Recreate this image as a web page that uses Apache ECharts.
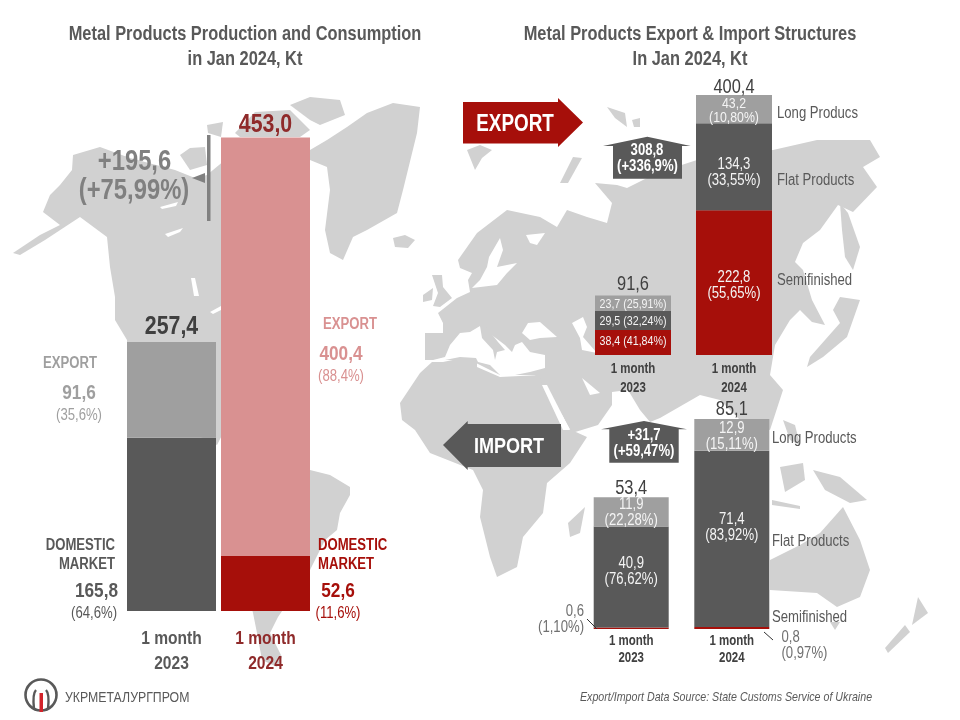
<!DOCTYPE html>
<html><head><meta charset="utf-8">
<style>html,body{margin:0;padding:0;background:#fff}#c{width:960px;height:720px}</style>
<script src="https://cdn.jsdelivr.net/npm/echarts@6/dist/echarts.min.js"></script>
</head><body><div id="c"></div>
<script>
// ---- data ----
const periods = ['1 month\n2023', '1 month\n2024'];
const totalProduction = [257.4, 453.0];
const domesticMarket = [165.8, 52.6];
const exportVolume = [91.6, 400.4];
const exportTotals = [91.6, 400.4];
const exportSemi = [38.4, 222.8];
const exportSemiPct = ['41,84%', '55,65%'];
const exportFlat = [29.5, 134.3];
const exportFlatPct = ['32,24%', '33,55%'];
const exportLong = [23.7, 43.2];
const exportLongPct = ['25,91%', '10,80%'];
const importTotals = [53.4, 85.1];
const importSemi = [0.6, 0.8];
const importFlat = [40.9, 71.4];
const importFlatPct = ['76,62%', '83,92%'];
const importLong = [11.9, 12.9];
const importLongPct = ['22,28%', '15,11%'];

// ---- decorative world-map backdrop (page pixels) ----
const landShapes = [
 [[13,253],[40,235],[60,225],[43,212],[50,195],[60,185],[72,170],[73,155],[100,147],[130,158],[175,170],[195,178],[207,175],[225,160],[235,300],[240,400],[217,445],[127,400],[127,340],[115,320],[115,297],[110,267],[107,237],[80,217],[45,240],[20,255]],
 [[180,155],[190,148],[205,147],[207,165],[190,170]],
 [[207,125],[223,122],[221,137],[208,133]],
 [[235,133],[255,112],[290,110],[310,130],[300,137],[240,137]],
 [[290,105],[310,97],[340,100],[345,115],[320,125],[310,120]],
 [[310,150],[327,140],[347,127],[367,113],[393,103],[420,107],[417,133],[403,190],[397,213],[367,230],[353,237],[343,260],[330,253],[325,230],[330,190],[327,167],[310,160]],
 [[393,238],[405,235],[415,240],[408,248],[395,247]],
 [[250,470],[310,470],[330,475],[350,487],[350,495],[340,513],[337,530],[325,540],[310,570],[278,617],[270,633],[282,657],[277,667],[262,660],[257,633],[253,613],[240,560],[225,500]],
 [[425,333],[443,333],[443,323],[438,313],[457,298],[470,292],[468,280],[472,273],[460,268],[458,260],[477,233],[507,210],[540,217],[557,227],[567,210],[587,217],[607,223],[612,203],[595,183],[617,185],[627,188],[657,173],[697,160],[773,150],[817,140],[870,140],[880,157],[863,167],[877,187],[853,212],[838,205],[820,230],[803,243],[795,262],[803,270],[812,300],[825,325],[812,322],[800,310],[790,320],[775,345],[770,375],[783,390],[770,430],[740,420],[720,400],[700,395],[660,418],[650,422],[640,410],[628,390],[612,392],[612,405],[598,425],[572,433],[562,415],[543,388],[535,375],[500,375],[470,360],[425,360]],
 [[432,275],[442,275],[443,287],[452,298],[440,307],[433,306],[438,293]],
 [[423,295],[433,288],[432,300],[423,302]],
 [[467,150],[480,145],[492,150],[482,158],[475,170]],
 [[607,107],[625,113],[627,127],[615,118]],
 [[632,120],[640,118],[640,127],[634,127]],
 [[560,183],[573,157],[582,158],[568,183]],
 [[840,203],[848,213],[860,247],[853,270],[845,257],[842,230]],
 [[860,300],[847,337],[823,357],[807,367],[810,357],[840,323],[833,310],[840,297]],
 [[432,362],[443,362],[477,355],[477,367],[500,377],[540,375],[543,387],[567,428],[587,437],[570,463],[547,483],[543,513],[523,537],[517,567],[497,577],[490,557],[480,517],[483,490],[473,470],[430,453],[415,430],[402,420],[400,403],[420,373]],
 [[585,507],[580,533],[570,537],[568,523]],
 [[770,560],[800,545],[820,533],[843,507],[860,540],[870,570],[860,597],[837,607],[817,593],[770,590]],
 [[830,622],[840,622],[835,630]],
 [[918,597],[928,613],[912,625]],
 [[905,625],[910,632],[888,653],[885,648]],
 [[813,470],[840,477],[867,500],[850,503],[825,490]],
 [[780,467],[803,463],[805,480],[785,492]],
 [[783,420],[795,425],[800,445],[790,440]],
 [[772,500],[800,506],[800,509],[772,505]]
];
const seaShapes = [
 [[500,238],[489,257],[487,267],[480,280],[472,288],[497,285],[507,273],[517,263],[497,267],[503,250]],
 [[433,360],[445,357],[450,345],[460,333],[470,332],[480,326],[505,345],[512,352],[515,345],[522,342],[530,352],[545,355],[545,368],[530,372],[515,375],[500,375],[490,365],[478,362],[476,358],[460,357],[445,360]],
 [[522,333],[528,323],[540,322],[557,337],[540,338],[530,340]],
 [[572,323],[583,317],[587,327],[583,337],[597,353],[582,350],[580,338]],
 [[582,378],[600,393],[590,395]],
 [[542,385],[547,385],[570,430],[563,430]],
 [[526,235],[545,233],[537,245],[530,243]],
 [[165,234],[183,228],[180,232],[168,237]],
 [[160,207],[178,202],[176,206],[162,209]],
 [[191,278],[195,278],[199,296],[194,296]],
 [[210,312],[221,306],[221,310],[213,314]]
];
const italyShape = [[480,326],[483,323],[498,342],[505,350],[497,352],[495,360],[493,350],[482,338]];

// ---- colours ----
const GREY='#595959', MID='#9F9F9F', RED='#A60F0A', PINK='#D99191', LAND='#D1D1D1', WINE='#8F2A2A', INK='#404040', SOFT='#F4F4F4';
const FONT='"Liberation Sans",Arial,sans-serif', SQUEEZE=0.82, TEXT_NUDGE=1.3;
const fmt = v => v.toFixed(1).replace('.', ',');

function catAxis(i){ return {gridIndex:i,type:'category',data:periods,axisLine:{show:false},axisTick:{show:false},axisLabel:{show:false}}; }
function valAxis(i,max){ return {gridIndex:i,type:'value',min:0,max,show:false,splitLine:{show:false}}; }

function seg(name,i,values,colors){
  return {type:'bar',name,stack:'s'+i,xAxisIndex:i,yAxisIndex:i,barWidth:i===0?89:(i===1?76:75),silent:true,
    data:values.map((v,k)=>({value:v,itemStyle:{color:colors[k]}}))};
}
// text anchored to the chart's own scales: each item sits at (category k, value y)
function labels(name,i,items){
  return {type:'custom',name,xAxisIndex:i,yAxisIndex:i,z:6,silent:true,
    data:items.map(t=>[t.k,t.y]),encode:{x:0,y:1},
    renderItem:(params,api)=>{
      const t=items[params.dataIndex], p=api.coord([api.value(0),api.value(1)]);
      return {type:'text',x:p[0]+(t.dx||0),y:p[1]+(t.dy||0)+TEXT_NUDGE,scaleX:SQUEEZE,silent:true,
        style:{text:t.text,fontFamily:FONT,fontSize:t.size,fontWeight:t.weight||'normal',fill:t.color,
          align:'center',verticalAlign:'middle',lineHeight:t.lh||undefined}};
    }};
}
function segLabels(stackRows){
  const out=[], base=[0,0];
  stackRows.forEach(r=>{
    r.values.forEach((v,k)=>{
      if(r.text) out.push({k,y:base[k]+v/2,text:r.text(k),size:r.size[k],lh:r.lh[k],color:r.color||SOFT,dy:r.dy[k]});
      base[k]+=v;
    });
  });
  return out;
}
const two=(vals,pcts)=>k=>fmt(vals[k])+'\n('+pcts[k]+')';
const rowOrTwo=(vals,pcts)=>k=>k===0?fmt(vals[k])+' ('+pcts[k]+')':fmt(vals[k])+'\n('+pcts[k]+')';
const periodLabels=(size,color,dy1,lh)=>periods.map((p,k)=>({k,y:0,text:p,size,weight:'bold',color:color[k],dy:dy1,lh}));
const totalLabels=(vals,size,weight,color,dys)=>vals.map((v,k)=>({k,y:v,text:fmt(v),size,weight,color:color[k],dy:dys[k]}));

const series=[
  seg('Domestic market',0,domesticMarket,[GREY,RED]),
  seg('Export',0,exportVolume,[MID,PINK]),
  labels('Totals',0,totalLabels(totalProduction,26,'bold',[INK,WINE],[-16.7,-13.7])),
  labels('Periods',0,periodLabels(19,[GREY,WINE],38.5,25)),
  seg('Semifinished',1,exportSemi,[RED,RED]),
  seg('Flat Products',1,exportFlat,[GREY,GREY]),
  seg('Long Products',1,exportLong,[MID,MID]),
  labels('Export shares',1,segLabels([
    {values:exportSemi,text:rowOrTwo(exportSemi,exportSemiPct),size:[13,16],lh:[16,16],dy:[-2,2]},
    {values:exportFlat,text:rowOrTwo(exportFlat,exportFlatPct),size:[13,16],lh:[16,16],dy:[0,5]},
    {values:exportLong,text:rowOrTwo(exportLong,exportLongPct),size:[13,15],lh:[16,14],dy:[0,0]}
  ])),
  labels('Export totals',1,totalLabels(exportTotals,20,'normal',[INK,INK],[-12,-9.3])),
  labels('Export periods',1,periodLabels(14,[INK,INK],22,19)),
  seg('Semifinished',2,importSemi,[RED,RED]),
  seg('Flat Products',2,importFlat,[GREY,GREY]),
  seg('Long Products',2,importLong,[MID,MID]),
  labels('Import shares',2,segLabels([
    {values:importSemi},
    {values:importFlat,text:two(importFlat,importFlatPct),size:[16,16],lh:[16,16],dy:[-7,-13]},
    {values:importLong,text:two(importLong,importLongPct),size:[16,16],lh:[16,16],dy:[-1,0]}
  ])),
  labels('Import totals',2,totalLabels(importTotals,20,'normal',[INK,INK],[-10.3,-11])),
  labels('Import periods',2,periodLabels(14,[INK,INK],19.5,17))
];

// ---- graphics ----
const g=[];
const poly=(pts,fill,z)=>g.push({type:'polygon',silent:true,z,shape:{points:pts},style:{fill}});
landShapes.forEach(s=>poly(s,LAND,-3));
seaShapes.forEach(s=>poly(s,'#ffffff',-2));
poly(italyShape,LAND,-1);

function txt(text,x,y,size,color,weight,align,extra){
  g.push({type:'text',silent:true,z:20,x,y:y+TEXT_NUDGE,scaleX:SQUEEZE,style:Object.assign({text,fontFamily:FONT,fontSize:size,fontWeight:weight||'normal',
    fill:color,align:align||'center',verticalAlign:'middle'},extra||{})});
}
txt('Metal Products Production and Consumption',245,33,20,GREY,'bold');
txt('in Jan 2024, Kt',245,58,20,GREY,'bold');
txt('Metal Products Export & Import Structures',690,33,20,GREY,'bold');
txt('In Jan 2024, Kt',690,58,20,GREY,'bold');
g.push({type:'rect',silent:true,z:6,shape:{x:207,y:135,width:3.5,height:86},style:{fill:'#808080'}});
poly([[192,178],[205,173],[205,183]],'#808080',6);
txt('+'+fmt(totalProduction[1]-totalProduction[0]),134.5,161,29,'#808080','bold');
txt('(+75,99%)',134,190,29,'#808080','bold');
txt('EXPORT',70,362,16,MID,'bold');
txt(fmt(exportVolume[0]),79,392,21,MID,'bold');
txt('(35,6%)',79,414,16,MID);
txt('DOMESTIC',115,544,16,GREY,'bold','right');
txt('MARKET',115,563,16,GREY,'bold','right');
txt(fmt(domesticMarket[0]),118,590,21,GREY,'bold','right');
txt('(64,6%)',117,612,16,GREY,'normal','right');
txt('EXPORT',350,323,16,PINK,'bold');
txt(fmt(exportVolume[1]),341,353,21,PINK,'bold');
txt('(88,4%)',341,375,16,PINK);
txt('DOMESTIC',318,544,16,RED,'bold','left');
txt('MARKET',318,563,16,RED,'bold','left');
txt(fmt(domesticMarket[1]),338,590,21,RED,'bold');
txt('(11,6%)',338,612,16,RED);
poly([[463,102],[558,102],[558,98],[583,122.5],[558,147],[558,143.5],[463,143.5]],RED,6);
txt('EXPORT',515,123,23,'#ffffff','bold');
poly([[561,424],[467.7,424],[467.7,421],[443,445],[467.7,470],[467.7,467],[561,467]],GREY,6);
txt('IMPORT',509,446,22,'#ffffff','bold');
poly([[613,178.7],[613,146],[603,146],[647.3,136.7],[690.7,146],[682,146],[682,178.7]],GREY,6);
txt('308,8',647,149,16,'#ffffff','bold');
txt('(+336,9%)',647.5,165,16,'#ffffff','bold');
poly([[609.3,462.7],[609.3,429.3],[601,429.3],[644,421],[687,429.3],[678.7,429.3],[678.7,462.7]],GREY,6);
txt('+31,7',644,434,16,'#ffffff','bold');
txt('(+59,47%)',644,450,16,'#ffffff','bold');
txt('Long Producs',777,112,16,GREY,'normal','left');
txt('Flat Products',777,179,16,GREY,'normal','left');
txt('Semifinished',777,279,16,GREY,'normal','left');
txt('Long Products',772,437,16,GREY,'normal','left');
txt('Flat Products',772,540,16,GREY,'normal','left');
txt('Semifinished',772,616,16,GREY,'normal','left');
txt(fmt(importSemi[0]),584,610,16,'#707070','normal','right');
txt('(1,10%)',584,626,16,'#707070','normal','right');
txt(fmt(importSemi[1]),781.5,636,16,'#707070','normal','left');
txt('(0,97%)',781.5,652,16,'#707070','normal','left');
const line=(x1,y1,x2,y2,c,w)=>g.push({type:'line',silent:true,z:8,shape:{x1,y1,x2,y2},style:{stroke:c,lineWidth:w}});
line(587,619,597,629,'#333',1);
line(764,632,773,640,'#333',1);
g.push({type:'circle',silent:true,z:6,shape:{cx:41,cy:695,r:15.5},style:{fill:'none',stroke:GREY,lineWidth:2.6}});
g.push({type:'bezierCurve',silent:true,z:6,shape:{x1:34,y1:709,cpx1:33,cpy1:700,cpx2:33,cpy2:693,x2:36,y2:690},style:{stroke:GREY,lineWidth:2.4,fill:'none'}});
g.push({type:'bezierCurve',silent:true,z:6,shape:{x1:48,y1:709,cpx1:49,cpy1:700,cpx2:49,cpy2:693,x2:46,y2:690},style:{stroke:GREY,lineWidth:2.4,fill:'none'}});
g.push({type:'rect',silent:true,z:7,shape:{x:39.5,y:693,width:3.5,height:19},style:{fill:'#D2232A'}});
txt('УКРМЕТАЛУРГПРОМ',65,697,15,GREY,'normal','left');
txt('Export/Import Data Source: State Customs Service of Ukraine',580,696,13,GREY,'normal','left',{fontStyle:'italic'});

const chart=echarts.init(document.getElementById('c'));
chart.setOption({
  animation:false,backgroundColor:'#ffffff',
  grid:[
    {left:124.5,width:188,top:88.5,height:522.5},
    {left:582.5,width:202,top:69.3,height:285.7},
    {left:580.9,width:201.2,top:406.9,height:222.1}
  ],
  xAxis:[catAxis(0),catAxis(1),catAxis(2)],
  yAxis:[valAxis(0,500),valAxis(1,440),valAxis(2,90)],
  series,graphic:g
});
</script></body></html>
